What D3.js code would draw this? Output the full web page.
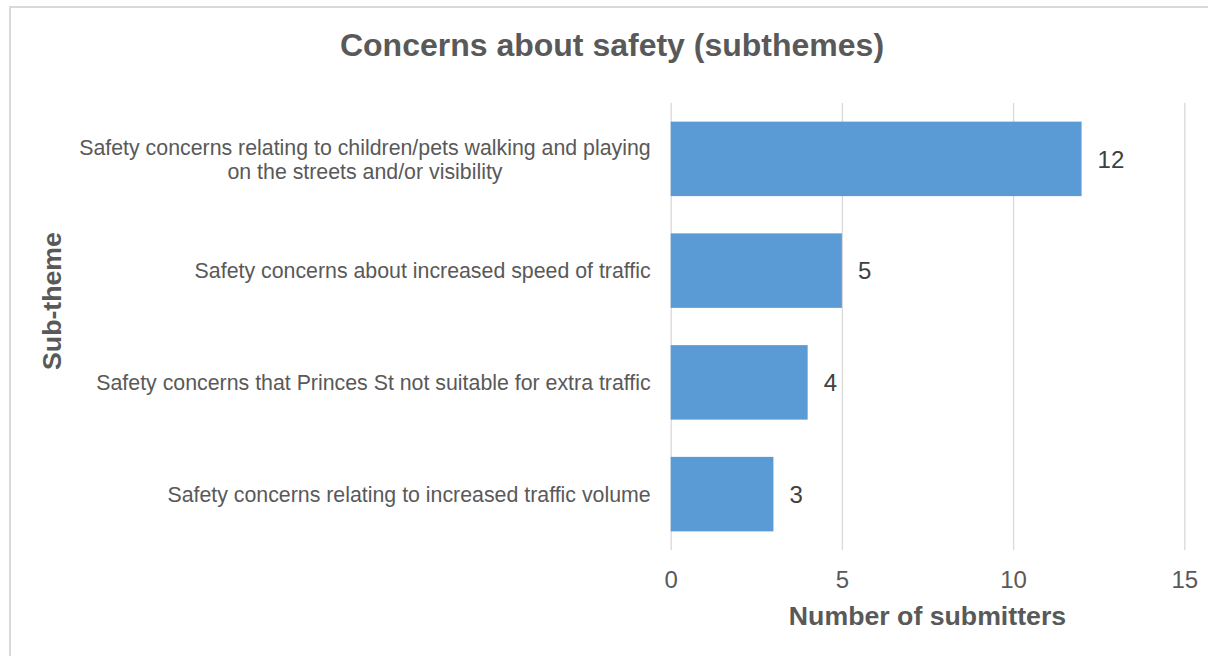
<!DOCTYPE html>
<html>
<head>
<meta charset="utf-8">
<script src="https://cdn.jsdelivr.net/npm/d3@7"></script>
<style>
  body { margin: 0; background: #fff; overflow: hidden; }
  svg { display: block; font-family: "Liberation Sans", Arial, sans-serif; }
</style>
</head>
<body>
<svg id="chart" width="1208" height="656"></svg>
<script>
// chart values
var categories = [
  "Safety concerns relating to children/pets walking and playing on the streets and/or visibility",
  "Safety concerns about increased speed of traffic",
  "Safety concerns that Princes St not suitable for extra traffic",
  "Safety concerns relating to increased traffic volume"
];
var submitters = [12, 5, 4, 3];
var xTicks = [0, 5, 10, 15];

var titleText = "Concerns about safety (subthemes)";
var xTitle = "Number of submitters";
var yTitle = "Sub-theme";

var margin = { top: 103, bottom: 106, left: 670.7, right: 23.7 };
var width = 1208 - margin.left - margin.right;
var height = 656 - margin.top - margin.bottom;

var svg = d3.select("#chart");

// outer border (right and bottom edges fall outside the picture)
svg.append("path")
  .attr("d", "M10,660 V7 H1210")
  .attr("fill", "none")
  .attr("stroke", "#d9d9d9")
  .attr("stroke-width", 2);

// title
svg.append("text")
  .attr("x", 612).attr("y", 56)
  .attr("text-anchor", "middle")
  .attr("font-size", 32).attr("font-weight", "bold")
  .attr("fill", "#595959")
  .text(titleText);

var data = categories.map(function (c, i) { return { name: c, value: submitters[i] }; });

// scales
var xScale = d3.scaleLinear().domain([0, 15]).range([0, width]);
var yScale = d3.scaleBand().domain(categories).range([0, height])
  .paddingInner(1 / 3).paddingOuter(1 / 6);

var chart = svg.append("g")
  .attr("transform", "translate(" + margin.left + "," + margin.top + ")");

// x axis with gridlines
var xAxis = chart.append("g")
  .attr("class", "axis-x")
  .attr("transform", "translate(0," + height + ")")
  .call(d3.axisBottom(xScale).tickValues(xTicks).tickSize(-height).tickPadding(21));
xAxis.select(".domain").remove();
xAxis.selectAll("line").attr("stroke", "#d9d9d9").attr("stroke-width", 1.3);
xAxis.selectAll("text")
  .attr("font-size", 24)
  .attr("font-family", "Liberation Sans, Arial, sans-serif")
  .attr("fill", "#595959");

// bars
chart.append("g").attr("class", "bars")
  .selectAll("rect").data(data)
  .enter().append("rect")
  .attr("x", 0)
  .attr("y", function (d) { return yScale(d.name); })
  .attr("width", function (d) { return xScale(d.value); })
  .attr("height", yScale.bandwidth())
  .attr("fill", "#5b9bd5");

// value labels
chart.append("g").attr("class", "labels")
  .selectAll("text").data(data)
  .enter().append("text")
  .attr("x", function (d) { return xScale(d.value) + 16; })
  .attr("y", function (d) { return yScale(d.name) + yScale.bandwidth() / 2; })
  .attr("dy", "0.36em")
  .attr("font-size", 24)
  .attr("fill", "#404040")
  .text(function (d) { return d.value; });

// category axis, wrapped labels centred per line
var yAxis = chart.append("g")
  .attr("class", "axis-y")
  .call(d3.axisLeft(yScale).tickSize(0).tickPadding(20));
yAxis.select(".domain").remove();
yAxis.selectAll("text").each(function (d) {
  var el = d3.select(this);
  el.text(null)
    .attr("font-size", 21.33)
    .attr("font-family", "Liberation Sans, Arial, sans-serif")
    .attr("fill", "#595959");
  // wrap words on width
  var words = d.split(" ");
  var lines = [];
  var line = [];
  var probe = el.append("tspan");
  words.forEach(function (w) {
    line.push(w);
    probe.text(line.join(" "));
    if (probe.node().getComputedTextLength() > 590 && line.length > 1) {
      line.pop();
      lines.push(line.join(" "));
      line = [w];
    }
  });
  lines.push(line.join(" "));
  probe.remove();
  var widest = 0;
  lines.forEach(function (l) {
    var t = el.append("tspan").text(l);
    widest = Math.max(widest, t.node().getComputedTextLength());
    t.remove();
  });
  var cx = -20 - widest / 2;
  var lh = 24;
  el.attr("text-anchor", "middle").attr("dy", null);
  lines.forEach(function (l, i) {
    el.append("tspan")
      .attr("x", cx)
      .attr("y", (i - (lines.length - 1) / 2) * lh)
      .attr("dy", "0.36em")
      .text(l);
  });
});

// axis titles
svg.append("text")
  .attr("x", margin.left + width / 2).attr("y", 625)
  .attr("text-anchor", "middle")
  .attr("font-size", 26.7).attr("font-weight", "bold")
  .attr("fill", "#595959")
  .text(xTitle);

svg.append("text")
  .attr("transform", "translate(61,301) rotate(-90)")
  .attr("text-anchor", "middle")
  .attr("font-size", 26.7).attr("font-weight", "bold")
  .attr("fill", "#595959")
  .text(yTitle);
</script>
</body>
</html>
